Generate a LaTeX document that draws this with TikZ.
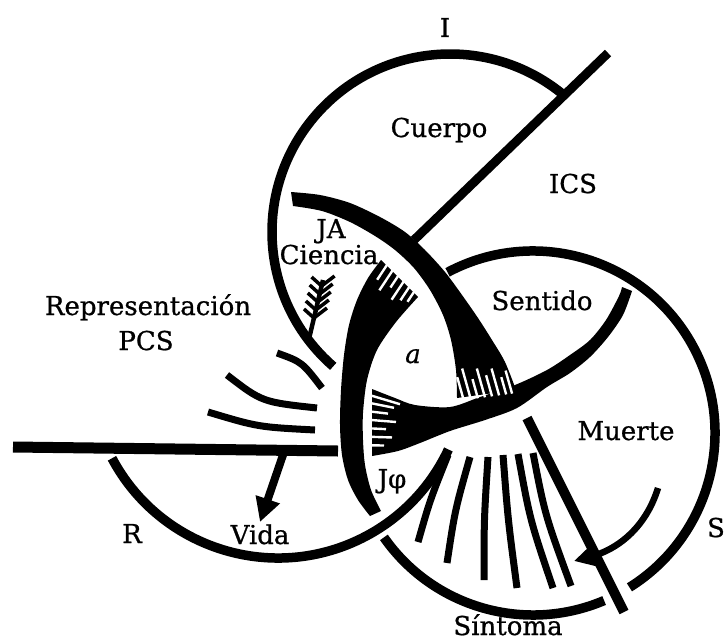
\documentclass[tikz,border=0pt]{standalone}
\usepackage{fontspec}
\newfontfamily\knotfont[FakeBold=0.8]{DejaVu Serif}
\usetikzlibrary{arrows.meta,calc}

\begin{document}
\begin{tikzpicture}[
  x=1pt, y=-1pt,
  ring/.style={line width=9.5pt},
  bar/.style={line width=10pt},
  stroke/.style={line width=7pt},
  gap/.style={draw=white, line width=2.4pt},
  lbl/.style={font=\knotfont\fontsize{26}{30}\selectfont, inner sep=0pt, anchor=base},
  pointer/.style={line width=8pt, -{Triangle[length=24pt,width=24pt]}},
]
\useasboundingbox (0,0) rectangle (727,642);

% === Ring centres ===
\coordinate (cI) at (450,232);
\coordinate (cR) at (278,370);
\coordinate (cS) at (533,433);

% === Outer arcs ===
\draw[ring] (cI) ++(-50:178) arc[start angle=-50, end angle=-229, radius=178];
\draw[ring] (cS) ++(-118:182) arc[start angle=-118, end angle=58, radius=182];
\draw[ring] (cS) ++(67:182) arc[start angle=67, end angle=145, radius=182];
\draw[ring] (cR) ++(152:188) arc[start angle=152, end angle=25, radius=188];

% === Spikes ===
% JA (top of R)
\fill plot[smooth] coordinates {(291,192) (320,195) (350,203) (380,217) (405,232) (425,250) (445,272) (462,295) (478,318) (492,340) (505,362) (516,390)}
  -- plot[smooth] coordinates {(457,398) (456,370) (451,340) (443,315) (430,290) (414,268) (395,250) (375,236) (350,222) (322,211) (293,206)} -- cycle;
% J phi (bottom of I)
\fill plot[smooth] coordinates {(372,389) (395,398) (415,405) (450,407) (480,397) (515,385) (547,370) (570,355) (590,340) (606,320) (619,296) (622,287)}
  -- plot[smooth] coordinates {(632,291) (623,315) (608,337) (590,357) (570,373) (547,387) (517,408) (485,420) (450,431) (420,443) (398,451) (372,456)} -- cycle;
% left of S
\fill plot[smooth] coordinates {(381,260) (368,278) (357,300) (349,325) (344,355) (341,390) (340,425) (342,455) (348,480) (358,500) (370,516)}
  -- plot[smooth] coordinates {(381,511) (371,490) (365,465) (363,440) (363,413) (367,380) (377,350) (396,322) (418,297)} -- cycle;

% === Fringes ===
\coordinate (uA) at (457,398);
\coordinate (uB) at (516,390);
\foreach \t/\l in {0.1/24,0.22/32,0.34/20,0.46/30,0.58/22,0.7/28,0.82/18,0.92/24}
  \draw[gap] ($(uA)!\t!(uB)+(0.8,3)$) -- ++(-0.27*\l,-0.96*\l);
\coordinate (lA) at (370,390);
\coordinate (lB) at (370,455);
\foreach \t/\l/\s in {0.08/30/0.3,0.2/24/0.2,0.33/18/0.12,0.46/26/0.08,0.59/16/0.05,0.72/22/0.03,0.85/14/0.02}
  \draw[gap] ($(lA)!\t!(lB)$) -- ++(\l,\s*\l);
\coordinate (sA) at (381,260);
\coordinate (sB) at (418,297);
\foreach \t/\l in {0.15/20,0.3/26,0.45/16,0.6/24,0.75/18,0.88/14}
  \draw[gap] ($(sA)!\t!(sB)+(1.6,-2.4)$) -- ++(-0.55*\l,0.83*\l);

% === Bars ===
\draw[bar, line width=9pt] (414,240) -- (608,53);
\draw[bar, line width=11pt] (13,447) -- (338,451);
\draw[bar] (527,418) -- (624,612);

% === Short strokes ===
\draw[stroke] (277,353) .. controls (302,362) .. (322,388);
\draw[stroke] (227,375) .. controls (262,402) .. (317,408);
\draw[stroke] (208,412) .. controls (258,427) .. (315,430);
\foreach \bx/\by/\cx/\cy/\tx/\ty in {418/542/430/500/448/455, 447/563/455/510/470/457, 484/580/484/520/488/457, 517/588/508/520/503/455, 553/588/530/520/518/454, 571/586/545/515/533/453}
  \draw[stroke] (\bx,\by) .. controls (\cx,\cy) .. (\tx,\ty);

% === Feather ===
\draw[line width=4.5pt] (308,343) -- (323,280);
\foreach \y in {286,294,302,310,318}
  \draw[line width=3.5pt] ({308+(343-\y)*15/63},\y) -- ++(-10,-9) ({308+(343-\y)*15/63},\y) -- ++(13,-10);

% === Arrows ===
\draw[pointer] (284,452) -- (260,522);
\draw[line width=6.5pt, -{Triangle[length=20pt,width=20pt]}] (658,488) .. controls (645,530) and (615,550) .. (574,561);

% === Labels ===
\node[lbl] (lI) at (445,37) {I};
\node[lbl] (cuerpo) at (439,137) {Cuerpo};
\node[lbl] (ics) at (573,193) {ICS};
\node[lbl] (ja) at (331,238) {JA};
\node[lbl] (ciencia) at (329,264) {Ciencia};
\node[lbl] (repr) at (148,315) {Representación};
\node[lbl] (pcs) at (146,350) {PCS};
\node[lbl] (sentido) at (542,310) {Sentido};
\node[lbl] (obj) at (413,363) {\itshape a};
\node[lbl] (muerte) at (626,440) {Muerte};
\node[lbl] (jphi) at (392,488) {Jφ};
\node[lbl] (lR) at (132,543) {R};
\node[lbl] (vida) at (260,544) {Vida};
\node[lbl] (lS) at (716,537) {S};
\node[lbl] (sintoma) at (508,635) {Síntoma};

\end{tikzpicture}
\end{document}
